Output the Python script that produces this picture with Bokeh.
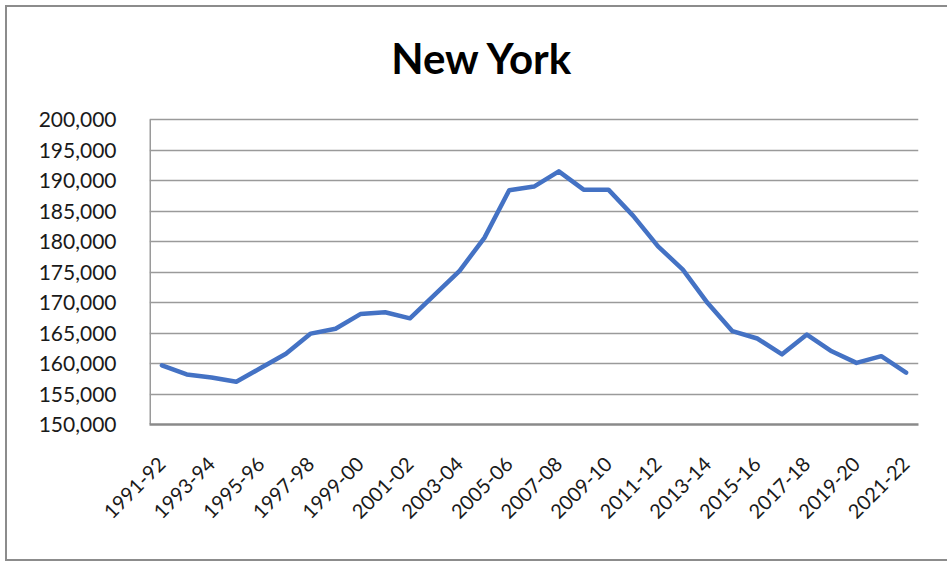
import numpy as np
from bokeh.plotting import figure
from bokeh.models import Range1d, FixedTicker, NumeralTickFormatter, ColumnDataSource, Label
from bokeh.embed import file_html
from bokeh.resources import INLINE

# School years (one per point) and the enrollment value for each
years = [
    "1991-92", "1992-93", "1993-94", "1994-95", "1995-96", "1996-97", "1997-98",
    "1998-99", "1999-00", "2000-01", "2001-02", "2002-03", "2003-04", "2004-05",
    "2005-06", "2006-07", "2007-08", "2008-09", "2009-10", "2010-11", "2011-12",
    "2012-13", "2013-14", "2014-15", "2015-16", "2016-17", "2017-18", "2018-19",
    "2019-20", "2020-21", "2021-22",
]
values = [
    159700, 158200, 157700, 157000, 159300, 161600, 164900, 165700, 168100,
    168400, 167400, 171300, 175200, 180600, 188400, 189000, 191500, 188500,
    188500, 184200, 179200, 175400, 169900, 165300, 164100, 161500, 164750,
    162000, 160100, 161200, 158500,
]
y_ticks = list(range(150000, 200001, 5000))

idx = list(range(len(years)))
src = ColumnDataSource(dict(x=idx, y=values, label=years))

# Layout in pixels: the value axis occupies PLOT_H px, and the frame is
# extended upward so the title can sit inside it.
W, H = 942, 556
BORDER_L, BORDER_R, BORDER_T, BORDER_B = 142, 31, 10, 139
PLOT_H = 305
frame_h = H - BORDER_T - BORDER_B
y_lo, y_hi = y_ticks[0], y_ticks[-1]
y_top = y_hi + (y_hi - y_lo) * (frame_h - PLOT_H) / PLOT_H
x_lo = -0.5

p = figure(
    width=W, height=H,
    output_backend="svg", toolbar_location=None,
    x_range=Range1d(x_lo, len(years) - 0.5),
    y_range=Range1d(y_lo, y_top),
    min_border_left=BORDER_L, min_border_right=BORDER_R,
    min_border_top=BORDER_T, min_border_bottom=BORDER_B,
)
p.styles = {
    "margin-left": "5px", "margin-top": "5px",
    "border-left": "2px solid #8c8c8c",
    "border-top": "2px solid #8c8c8c",
    "border-bottom": "2px solid #8c8c8c",
    "border-right": "0px none white",
}
p.outline_line_color = None
p.background_fill_color = "white"
p.border_fill_color = "white"

# Chart title
title = Label(
    x=333, y=367, x_units="screen", y_units="screen",
    text="New York", text_align="center", text_baseline="alphabetic",
    text_font="Lato", text_font_style="bold", text_font_size="42px",
    text_color="#000000",
)
p.add_layout(title)

# Grid
p.xgrid.grid_line_color = None
p.ygrid.ticker = FixedTicker(ticks=y_ticks)
p.ygrid.grid_line_color = "#9a9a9a"
p.ygrid.grid_line_width = 1.5

# Vertical value-axis line, only over the tick span
p.segment(x0=[x_lo], y0=[y_lo], x1=[x_lo], y1=[y_hi],
          line_color="#9a9a9a", line_width=3)

# Line series
p.line("x", "y", source=src, line_color="#4472C4", line_width=4.5,
       line_join="round", line_cap="round")

# Y axis
p.yaxis.ticker = FixedTicker(ticks=y_ticks)
p.yaxis.formatter = NumeralTickFormatter(format="0,0")
p.yaxis.major_tick_line_color = None
p.yaxis.minor_tick_line_color = None
p.yaxis.axis_line_color = None
p.yaxis.major_label_standoff = 27
p.yaxis.major_label_text_font = "Lato"
p.yaxis.major_label_text_font_size = "21px"
p.yaxis.major_label_text_color = "#1a1a1a"

# X axis: every other school year labelled, rotated
p.xaxis.ticker = FixedTicker(ticks=idx[::2])
p.xaxis.major_label_overrides = {i: years[i] for i in idx[::2]}
p.xaxis.major_label_orientation = np.pi / 4
p.xaxis.major_tick_line_color = None
p.xaxis.minor_tick_line_color = None
p.xaxis.axis_line_color = "#8a8a8a"
p.xaxis.axis_line_width = 2.5
p.xaxis.major_label_standoff = 30
p.xaxis.major_label_text_font = "Lato"
p.xaxis.major_label_text_font_size = "20px"
p.xaxis.major_label_text_color = "#1a1a1a"

open("out.html", "w").write(file_html(p, INLINE))
